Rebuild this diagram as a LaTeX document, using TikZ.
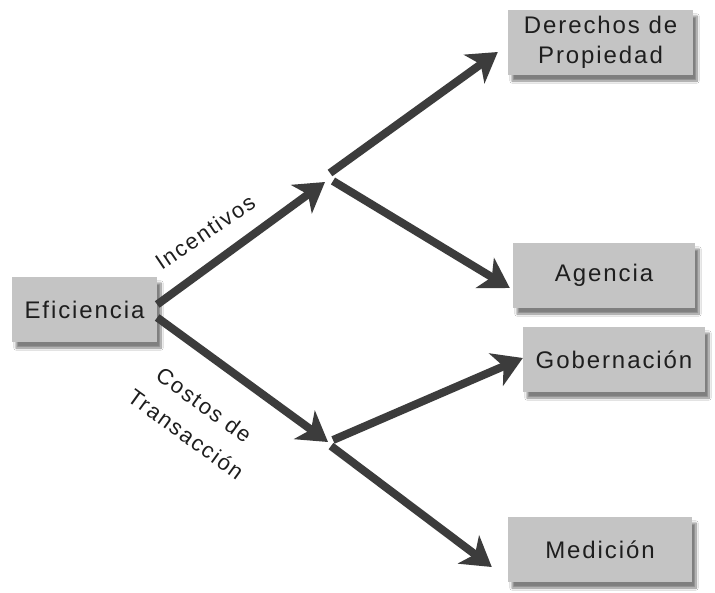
\documentclass[tikz,border=0pt]{standalone}
\usepackage{fontspec}
\setmainfont{Liberation Sans}
\newfontfamily\boxfont[LetterSpace=8]{Liberation Sans}
\usetikzlibrary{arrows.meta,calc,shadows.blur}

\definecolor{boxgray}{HTML}{C4C4C4}
\definecolor{arrowgray}{HTML}{3C3C3C}
\definecolor{txtdark}{HTML}{1E1E1E}

\begin{document}
\begin{tikzpicture}[x=1pt,y=-1pt,
  box/.style={fill=boxgray, text=txtdark, minimum height=65pt, inner sep=0pt,
    align=center, font=\boxfont\fontsize{24}{30}\selectfont,
    blur shadow={shadow xshift=4pt, shadow yshift=-6pt, shadow opacity=50, shadow blur steps=10}},
  flow/.style={line width=8pt, draw=arrowgray,
    -{Stealth[length=29pt,width=35pt,inset=8pt]}},
  lbl/.style={text=txtdark, font=\boxfont\fontsize{22}{31}\selectfont}]

\useasboundingbox[fill=white] (0,0) rectangle (715,592);

% boxes
\node[box, minimum width=145pt] (ef)  at (84.5,309.5) {Eficiencia};
\node[box, minimum width=185pt] (dp)  at (600.5,42.5) {Derechos de\\Propiedad};
\node[box, minimum width=182pt] (ag)  at (604,275.5)  {Agencia};
\node[box, minimum width=182pt] (gob) at (614,359.5)  {Gobernación};
\node[box, minimum width=184pt] (med) at (600,549.5)  {Medición};

% branching points
\coordinate (j1)  at (325,182);
\coordinate (j1a) at (330,173);
\coordinate (j1b) at (333,181);
\coordinate (j2)  at (328,442);
\coordinate (j2a) at (333,440);
\coordinate (j2b) at (331,446);

% connectors
\draw[flow] ($(ef.east)+(0,-5)$) -- (j1);
\draw[flow] ($(ef.east)+(0,8)$)  -- (j2);
\draw[flow] (j1a) -- ($(dp.west)+(-10,9.5)$);
\draw[flow] (j1b) -- ($(ag.west)+(-3,12.5)$);
\draw[flow] (j2a) -- ($(gob.west)+(0,-1.5)$);
\draw[flow] (j2b) -- ($(med.west)+(-16,17.5)$);

% arrow labels
\node[lbl, rotate=34] (inc) at (205,232) {Incentivos};
\node[lbl, rotate=-36] (ct1) at (204,405) {Costos de};
\node[lbl, rotate=-36] (ct2) at (186,434) {Transacción};
\end{tikzpicture}
\end{document}
